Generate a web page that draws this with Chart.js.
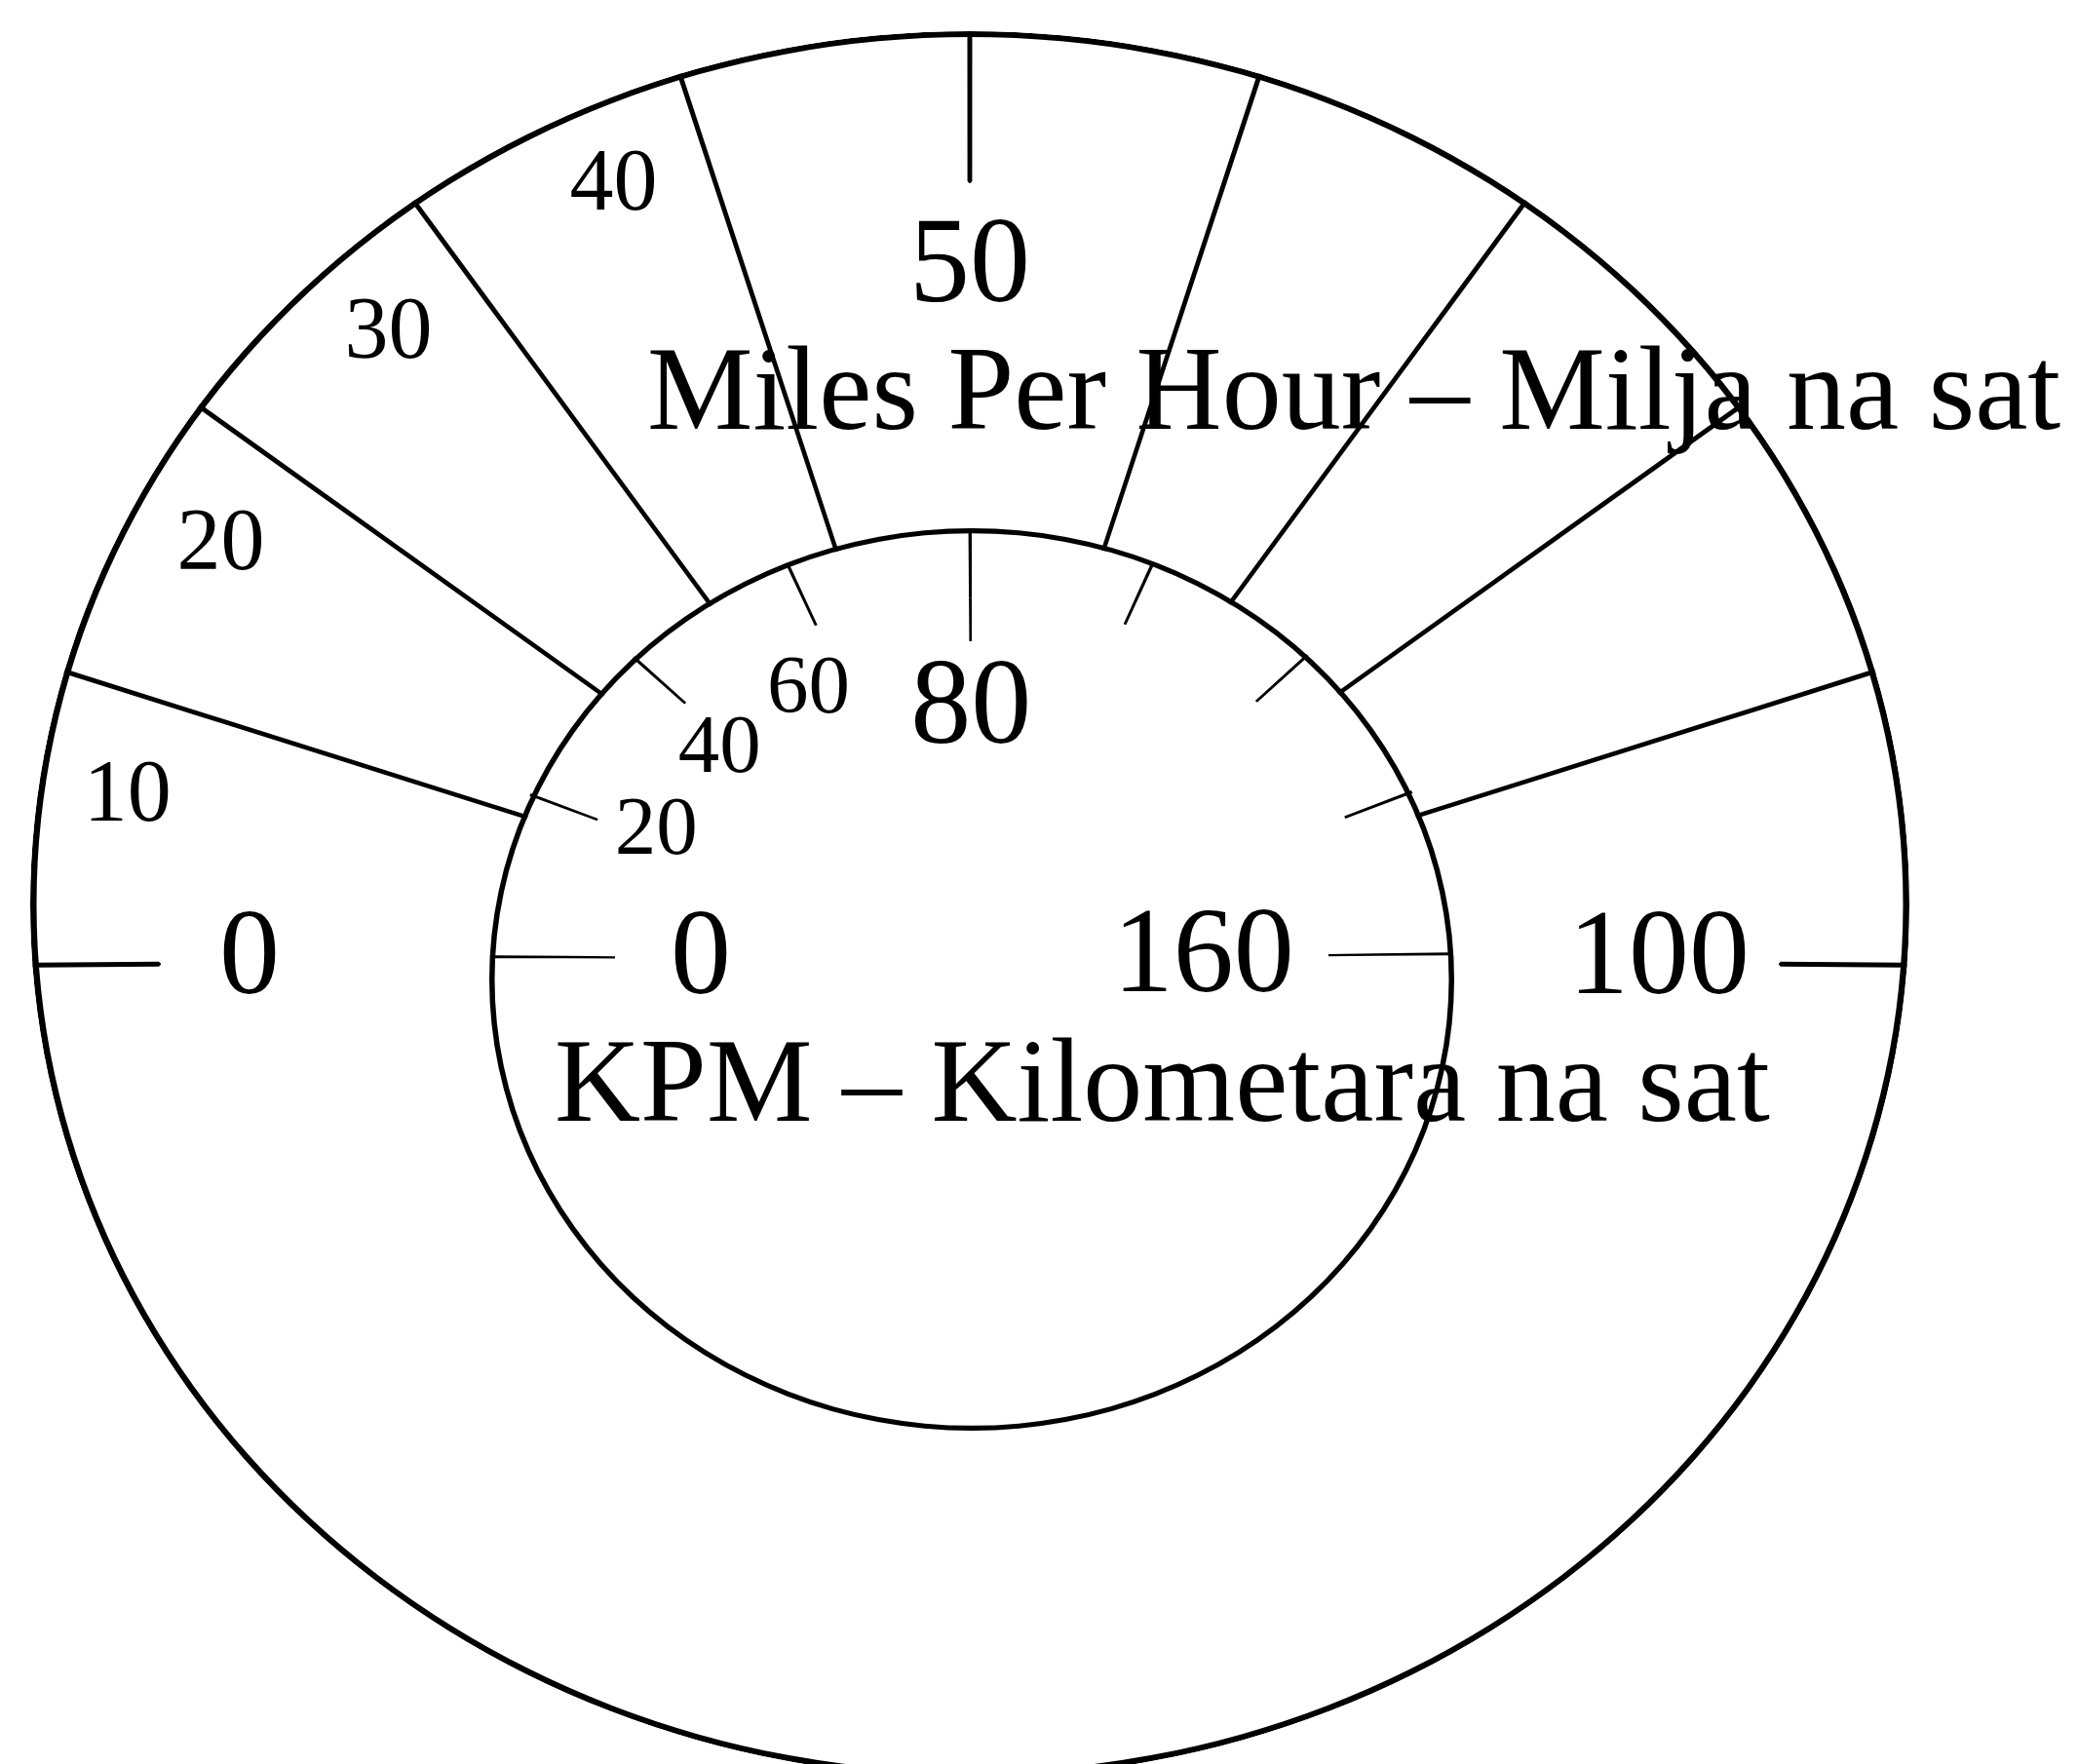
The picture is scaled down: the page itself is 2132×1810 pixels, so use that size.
<!DOCTYPE html>
<html lang="en">
<head>
<meta charset="UTF-8">
<title>Miles Per Hour – Milja na sat</title>
<script src="https://cdn.jsdelivr.net/npm/chart.js"></script>
<style>
  html, body { margin: 0; padding: 0; background: #fff; }
  canvas { display: block; }
</style>
</head>
<body>
<canvas id="dial" width="2132" height="1810"></canvas>
<script>
const mphTicks = [0, 10, 20, 30, 40, 50, 60, 70, 80, 90, 100];
const mphSpokes = [10, 20, 30, 40, 60, 70, 80, 90];   // lines that run across the whole outer band
const mphLongTicks = [50];
const mphSmallLabels = [10, 20, 30, 40];
const mphBigLabels = [0, 50, 100];

const kphTicks = [0, 20, 40, 60, 80, 100, 120, 140, 160];
const kphLongTicks = [0, 80, 160];
const kphSmallLabels = [20, 40, 60];
const kphBigLabels = [0, 80, 160];

const mphTitle = 'Miles Per Hour – Milja na sat';
const kphTitle = 'KPM – Kilometara na sat';

// ---- geometry (px). every group of rings is stretched onto its own ellipse ----
// angles are measured above the left horizontal, going over the top
const DIALS = {
  rim: { cx: 995, cy: 928, a: 964, b: 896 },                                         // outer outline
  mph: { cx: 995, cy: 982, a: 990, b: 985, start: -0.5, sweep: 181, max: 100 },     // spokes, trimmed by the rim
  kph: { cx: 997, cy: 1005, a: 495, b: 463 },                                         // inner outline + face
  kphTicks: { cx: 997, cy: 984, a: 491, b: 437.5, start: 0.3, sweep: 179, max: 160 }
};
const R_CHART = 900;
const S_RIM = 1.12;
const MASK = 45, RIM_W = 6.5;                 // white band that trims the spokes, then the outline
const SPK_TICK = 158, SPK_MID = 32, SPK_END = 400;
const K_TICK = 75, K_LONG = 50, K_RIM = 5.5;

const rimOuterC = R_CHART - MASK / S_RIM;
const spkOuterC = rimOuterC - RIM_W / S_RIM;
const sSpk = DIALS.mph.a / spkOuterC;
const c1 = SPK_END / sSpk;
const sT = DIALS.kphTicks.a / c1;
const c2 = c1 - (K_TICK + K_LONG) / sT;
const sK = DIALS.kph.a / c2;

const ink = '#000';
const paper = '#fff';
const clear = 'rgba(0,0,0,0)';
const serif = '"Liberation Serif", "Times New Roman", serif';

function dialAngle(dial, v) {
  return dial.start + dial.sweep * v / dial.max;
}

// thin black segments at the tick values, transparent gaps in between
function tickRing(group, values, widthDeg, border) {
  const dial = DIALS[group];
  const angles = values.map(v => 180 + dialAngle(dial, v));
  const data = [], bg = [], bw = [];
  angles.forEach((a, i) => {
    const next = i < angles.length - 1 ? angles[i + 1] : angles[0] + 360;
    data.push(widthDeg, next - a - widthDeg);
    bg.push(ink, clear);
    bw.push(border, 0);
  });
  return {
    group, data, backgroundColor: bg, borderColor: ink, borderWidth: bw,
    rotation: angles[0] - widthDeg / 2 + 90, clip: false
  };
}

function solidRing(group, color) {
  return { group, data: [360], backgroundColor: color, borderWidth: 0, clip: false };
}

const spokeLine = 4.0 / sSpk;
const datasets = [
  Object.assign(solidRing('rim', paper), { order: 2, weight: MASK / S_RIM }),
  Object.assign(solidRing('rim', ink), { order: 2, weight: RIM_W / S_RIM, ref: true }),
  Object.assign(tickRing('mph', mphTicks, 0.06, spokeLine), { order: 3, weight: SPK_TICK / sSpk, ref: true }),
  Object.assign(tickRing('mph', [...mphSpokes, ...mphLongTicks].sort((x, y) => x - y), 0.06, spokeLine),
    { order: 3, weight: SPK_MID / sSpk }),
  Object.assign(tickRing('mph', mphSpokes, 0.06, spokeLine),
    { order: 3, weight: spkOuterC - c1 - (SPK_TICK + SPK_MID) / sSpk }),
  Object.assign(tickRing('kphTicks', kphTicks, 0.4, 0), { order: 0, weight: K_TICK / sT, ref: true }),
  Object.assign(tickRing('kphTicks', kphLongTicks, 0.4, 0), { order: 0, weight: K_LONG / sT }),
  Object.assign(solidRing('kph', ink), { order: 1, weight: K_RIM / sK, ref: true }),
  Object.assign(solidRing('kph', paper), { order: 1, weight: c2 - K_RIM / sK })
];

// stretch each group of rings onto its own ellipse
const dialTransform = {
  id: 'dialTransform',
  beforeDatasetDraw(chart, args) {
    const key = chart.data.datasets[args.index].group;
    const dial = DIALS[key];
    const refIndex = chart.data.datasets.findIndex(d => d.group === key && d.ref);
    const base = chart.getDatasetMeta(refIndex).data[0];
    const ctx = chart.ctx;
    ctx.save();
    ctx.translate(dial.cx, dial.cy);
    ctx.scale(dial.a / base.outerRadius, dial.b / base.outerRadius);
    ctx.translate(-base.x, -base.y);
  },
  afterDatasetDraw(chart) {
    chart.ctx.restore();
  }
};

function dialPoint(dial, deg, ax, by) {
  const t = (180 + deg) * Math.PI / 180;
  return { x: dial.cx + ax * Math.cos(t), y: dial.cy + by * Math.sin(t) };
}

// small numbers sit beside their tick
function smallLabels(ctx, dial, values, size, o) {
  ctx.font = size + 'px ' + serif;
  values.forEach(v => {
    const deg = o.mid + (dialAngle(dial, v) + o.shift - o.mid) * o.k;
    const p = dialPoint(dial, deg, dial.a * o.f, dial.b * o.f);
    ctx.fillText(String(v), p.x, p.y + 0.34 * size);
  });
}

// big numbers sit just inside an anchor point, pushed towards the centre
function bigLabels(ctx, dial, values, size, o) {
  ctx.font = size + 'px ' + serif;
  values.forEach(v => {
    const deg = 90 + (dialAngle(dial, v) - 90) * o.spread;
    const p = dialPoint(dial, deg, dial.a - o.insetX, dial.b - o.insetY);
    const dx = dial.cx - p.x, dy = dial.cy - p.y;
    const len = Math.hypot(dx, dy) || 1;
    const w = ctx.measureText(String(v)).width;
    const h = 0.68 * size;
    const x = p.x + dx / len * w / 2 + o.nudgeX * Math.abs(Math.cos(deg * Math.PI / 180));
    const y = p.y + dy / len * h / 2;
    ctx.fillText(String(v), x, y + 0.34 * size);
  });
}

const dialLabels = {
  id: 'dialLabels',
  afterDatasetsDraw(chart) {
    const ctx = chart.ctx;
    ctx.save();
    ctx.fillStyle = ink;
    ctx.textAlign = 'center';
    ctx.textBaseline = 'alphabetic';
    smallLabels(ctx, DIALS.mph, mphSmallLabels, 90, { f: 0.89, shift: -6.4, mid: 45, k: 1 });
    bigLabels(ctx, DIALS.mph, mphBigLabels, 124, { insetX: 205, insetY: 228, spread: 0.99, nudgeX: 15 });
    smallLabels(ctx, DIALS.kphTicks, kphSmallLabels, 85, { f: 0.73, shift: 0, mid: 38, k: 0.82 });
    bigLabels(ctx, DIALS.kphTicks, kphBigLabels, 124, { insetX: 171, insetY: 131, spread: 0.985, nudgeX: 11 });
    ctx.textAlign = 'left';
    ctx.font = '122px ' + serif;
    ctx.fillText(mphTitle, 664, 440);
    ctx.fillText(kphTitle, 569, 1150);
    ctx.restore();
  }
};

new Chart(document.getElementById('dial'), {
  type: 'doughnut',
  data: { datasets },
  options: {
    responsive: false,
    animation: false,
    events: [],
    cutout: 0,
    radius: R_CHART,
    layout: { padding: 0 },
    plugins: { legend: { display: false }, tooltip: { enabled: false } }
  },
  plugins: [dialTransform, dialLabels]
});
</script>
</body>
</html>
